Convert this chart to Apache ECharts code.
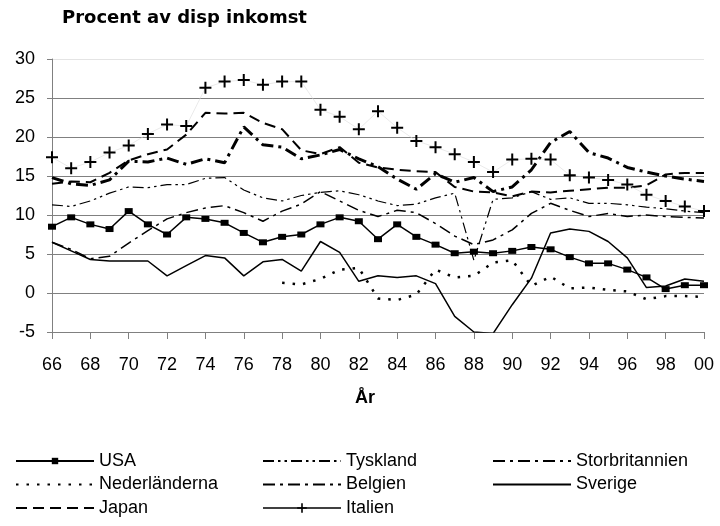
<!DOCTYPE html>
<html>
<head>
<meta charset="utf-8">
<script src="https://cdn.jsdelivr.net/npm/echarts@6/dist/echarts.min.js"></script>
<style>
  html, body { margin: 0; padding: 0; background: #fff; }
  #chart { width: 720px; height: 526px; }
</style>
</head>
<body>
<div id="chart"></div>
<script>
// years 1966-2000, shown as two digits
const years = ['66','67','68','69','70','71','72','73','74','75','76','77','78','79','80','81','82','83',
  '84','85','86','87','88','89','90','91','92','93','94','95','96','97','98','99','00'];

const usa = [8.5, 9.7, 8.8, 8.2, 10.5, 8.8, 7.5, 9.7, 9.5, 9.0,
  7.7, 6.5, 7.2, 7.5, 8.8, 9.7, 9.2, 6.9, 8.8, 7.2,
  6.2, 5.1, 5.3, 5.1, 5.4, 5.9, 5.6, 4.6, 3.8, 3.8,
  3.0, 2.0, 0.5, 1.0, 1.0];
const tyskland = [11.3, 11.1, 11.8, 12.8, 13.6, 13.5, 13.9, 13.9, 14.7, 14.8,
  13.2, 12.2, 11.8, 12.5, 12.9, 13.1, 12.6, 11.8, 11.2, 11.4,
  12.2, 12.8, 4.2, 12.0, 12.2, 13.0, 12.0, 12.2, 11.5, 11.5,
  11.3, 11.0, 10.8, 10.5, 10.3];
const storbritannien = [6.5, 5.6, 4.4, 4.7, 6.4, 8.0, 9.5, 10.3, 10.9, 11.2,
  10.3, 9.2, 10.5, 11.4, 13.0, 11.8, 10.6, 9.8, 10.6, 10.3,
  8.9, 7.3, 6.2, 6.8, 8.1, 10.2, 11.5, 10.6, 9.8, 10.2,
  9.8, 10.0, 9.8, 9.7, 9.6];
const nederlanderna = [null, null, null, null, null, null, null, null, null, null,
  null, null, 1.3, 1.1, 1.8, 3.0, 3.2, -0.7, -0.9, -0.2,
  3.0, 2.0, 2.2, 3.9, 4.2, 0.9, 2.1, 0.6, 0.7, 0.4,
  0.2, -0.8, -0.4, -0.4, -0.5];
const belgien = [14.8, 14.0, 13.8, 14.5, 16.9, 16.8, 17.3, 16.5, 17.2, 16.7,
  21.3, 19.0, 18.7, 17.2, 17.7, 18.4, 17.2, 16.2, 14.6, 13.3,
  15.3, 14.2, 14.8, 13.0, 13.6, 15.8, 19.3, 20.7, 18.0, 17.3,
  16.1, 15.5, 15.0, 14.6, 14.3];
const sverige = [6.5, 5.4, 4.3, 4.1, 4.1, 4.1, 2.2, 3.5, 4.8, 4.5,
  2.2, 4.0, 4.3, 2.8, 6.6, 5.2, 1.5, 2.2, 2.0, 2.2,
  1.2, -3.0, -5.0, -5.2, -1.5, 1.9, 7.7, 8.2, 7.9, 6.6,
  4.5, 0.7, 0.9, 1.8, 1.5];
const japan = [14.0, 14.3, 14.2, 15.4, 17.0, 17.8, 18.4, 20.3, 23.1, 23.0,
  23.1, 21.8, 21.0, 18.3, 17.8, 18.7, 16.7, 16.1, 15.8, 15.6,
  15.5, 13.6, 13.0, 12.9, 12.4, 13.0, 12.9, 13.1, 13.3, 13.5,
  13.5, 13.8, 15.2, 15.4, 15.4];
const italien = [17.4, 16.0, 16.8, 18.0, 18.9, 20.4, 21.6, 21.4, 26.3, 27.1,
  27.3, 26.7, 27.1, 27.1, 23.5, 22.6, 21.0, 23.3, 21.2, 19.5,
  18.7, 17.8, 16.8, 15.5, 17.1, 17.2, 17.1, 15.1, 14.8, 14.5,
  13.9, 12.6, 11.8, 11.1, 10.5];

const yTicks = [-5, 30, 5];

const font = 'Liberation Sans, Arial, sans-serif';
const plusPath = 'path://M5,0H7V5H12V7H7V12H5V7H0V5H5Z';

const chart = echarts.init(document.getElementById('chart'));

// plain black line, no markers
const line = (name, data, width, dash) => ({
  name, type: 'line', data,
  symbol: 'none',
  itemStyle: { color: 'rgba(0,0,0,0)' },
  lineStyle: { color: '#000', width, type: dash || 'solid' },
  connectNulls: false
});

// legend entry without the middle circle
const plain = (name) => ({ name, itemStyle: { opacity: 0, borderWidth: 0 } });

const legendText = { fontFamily: font, fontSize: 18, color: '#000', lineHeight: 20 };

const option = {
  animation: false,
  backgroundColor: '#fff',
  title: [
    {
      text: 'Procent av disp inkomst', left: 62, top: 9, padding: 0,
      textStyle: { fontFamily: 'DejaVu Sans', fontWeight: 'bold', fontSize: 18, color: '#000' }
    },
    {
      text: 'År', left: 355, top: 389, padding: 0,
      textStyle: { fontFamily: font, fontWeight: 'bold', fontSize: 18, color: '#000' }
    }
  ],
  grid: { left: 52, right: 16, top: 59, bottom: 194, containLabel: false },
  xAxis: {
    type: 'category', data: years, boundaryGap: false,
    axisLine: { onZero: false, lineStyle: { color: '#808080', width: 1 } },
    axisTick: { interval: 1, length: 7, lineStyle: { color: '#808080' } },
    axisLabel: { interval: 1, margin: 24, fontFamily: font, fontSize: 18, color: '#000' },
    splitLine: { show: false }
  },
  yAxis: {
    type: 'value', min: yTicks[0], max: yTicks[1], interval: yTicks[2],
    axisLine: { show: true, lineStyle: { color: '#808080', width: 1 } },
    axisTick: { show: true, length: 5, lineStyle: { color: '#808080' } },
    axisLabel: { margin: 17, fontFamily: font, fontSize: 18, color: '#000' },
    splitLine: {
      lineStyle: {
        color: ['#808080', '#808080', '#808080', '#808080', '#808080', '#808080', '#808080', '#e4e4e4'],
        width: 1
      }
    }
  },
  legend: [
    {
      orient: 'vertical', left: 15, top: 451, padding: 0, itemGap: 3.5,
      itemWidth: 78, itemHeight: 8, textStyle: legendText,
      data: ['USA', plain('Nederländerna'), plain('Japan')]
    },
    {
      orient: 'vertical', left: 262, top: 451, padding: 0, itemGap: 3.5,
      itemWidth: 78, itemHeight: 12, textStyle: legendText,
      data: [plain('Tyskland'), plain('Belgien'),
        { name: 'Italien', lineStyle: { color: '#000', width: 1.5, opacity: 1 } }]
    },
    {
      orient: 'vertical', left: 492, top: 451, padding: 0, itemGap: 3.5,
      itemWidth: 78, itemHeight: 8, textStyle: legendText,
      data: [plain('Storbritannien'), plain('Sverige')]
    }
  ],
  series: [
    line('Sverige', sverige, 1.5),
    line('Nederländerna', nederlanderna, 2.5, [2.5, 8]),
    line('Storbritannien', storbritannien, 1.5, [12, 5, 3, 5]),
    line('Tyskland', tyskland, 1.2, [11, 4, 2.5, 4, 2.5, 4]),
    line('Belgien', belgien, 3, [12, 5, 3, 5]),
    line('Japan', japan, 2, [11, 6]),
    {
      name: 'USA', type: 'line', data: usa,
      symbol: 'rect', symbolSize: [8, 6], showSymbol: true,
      itemStyle: { color: '#000' },
      lineStyle: { color: '#000', width: 1.5 }
    },
    {
      name: 'Italien', type: 'line', data: italien,
      symbol: plusPath, symbolSize: 12, showSymbol: true,
      itemStyle: { color: '#000' },
      lineStyle: { color: '#dcdcdc', width: 0.6 },
      z: 5
    }
  ]
};

chart.setOption(option);
</script>
</body>
</html>
